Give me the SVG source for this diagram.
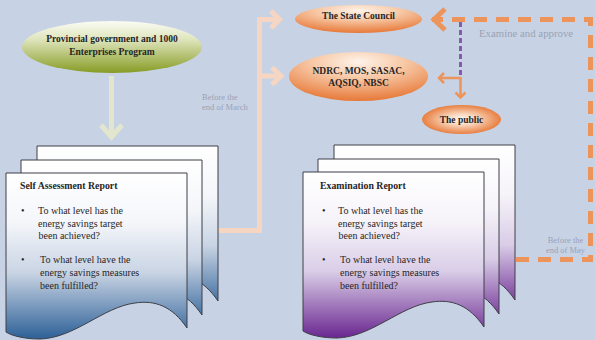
<svg xmlns="http://www.w3.org/2000/svg" width="595" height="340" viewBox="0 0 595 340">
<defs>
<linearGradient id="gGreen" x1="0" y1="0" x2="0" y2="1">
<stop offset="0" stop-color="#fbfcf4"/><stop offset="0.35" stop-color="#dfe5bd"/><stop offset="1" stop-color="#879c25"/>
</linearGradient>
<radialGradient id="gOrange" cx="0.5" cy="0.2" r="0.85">
<stop offset="0" stop-color="#fef3ea"/><stop offset="0.4" stop-color="#f7c7a4"/><stop offset="1" stop-color="#e5702c"/>
</radialGradient>
<radialGradient id="gPublic" cx="0.5" cy="0.5" r="0.55">
<stop offset="0" stop-color="#fffaf6"/><stop offset="0.35" stop-color="#f9d6bd"/><stop offset="1" stop-color="#e5702c"/>
</radialGradient>
<linearGradient id="gBlue" x1="0" y1="0" x2="0" y2="1">
<stop offset="0" stop-color="#ffffff"/><stop offset="0.3" stop-color="#f4f6fa"/><stop offset="0.6" stop-color="#c9d4e4"/><stop offset="1" stop-color="#2d6097"/>
</linearGradient>
<linearGradient id="gPurple" x1="0" y1="0" x2="0" y2="1">
<stop offset="0" stop-color="#ffffff"/><stop offset="0.3" stop-color="#f6f3f9"/><stop offset="0.6" stop-color="#d9cde7"/><stop offset="1" stop-color="#6a2690"/>
</linearGradient>
<path id="doc" d="M6,173 H187 V328 C172,306 155,300 135,303 C103,307 75,338 40,339 C25,339 12,336 6,332 Z"/>
<style>
.t{font-family:"Liberation Serif","Times New Roman",serif;fill:#262626;}
.en{font-size:9.5px;font-weight:bold;text-anchor:middle;}
.title{font-size:9.8px;font-weight:bold;}
.body{font-size:10px;}
.note{font-family:"Liberation Serif","Times New Roman",serif;fill:#9aa2b4;font-size:8.5px;}
.docB{fill:url(#gBlue);stroke:#3f3f46;stroke-width:1;}
.docP{fill:url(#gPurple);stroke:#3f3f46;stroke-width:1;}
.peach{fill:none;stroke:#f6d6c3;stroke-width:5;}
.og{fill:none;stroke:#ec945a;}
</style>
</defs>
<rect width="595" height="340" fill="#c7d3e5"/>

<g id="connectors">
<path d="M111.5,76 V136" fill="none" stroke="#e1e6cd" stroke-width="5"/>
<polyline points="101,125 111.5,137 122,125" fill="none" stroke="#e1e6cd" stroke-width="5"/>
<path class="peach" d="M217,230.5 H259.5 V17"/>
<path class="peach" d="M259.5,19.5 H278 M259.5,76 H280"/>
<polyline class="peach" points="271,11 279.5,19.5 271,28"/>
<polyline class="peach" points="272,67.5 281,76 272,84.5"/>
<path class="og" stroke-width="5" stroke-dasharray="13 9" d="M516,259.5 H590.5 V19.5 H440"/>
<path class="og" stroke-width="5" d="M443,19.5 H432"/>
<polyline class="og" stroke-width="5" points="445,9 434,19.5 445,30"/>
<path d="M460.5,22 V77" fill="none" stroke="#8a58b0" stroke-width="3" stroke-dasharray="5 3"/>
<path class="og" stroke-width="2.5" d="M460.5,77 V97 M460.5,78 H440"/>
<polyline class="og" stroke-width="2.5" points="444,73 439,78 444,83"/>
<polyline class="og" stroke-width="2.5" points="455.5,92.5 460.5,97.5 465.5,92.5"/>
<text class="note" x="202" y="100">Before the</text>
<text class="note" x="202" y="110">end of March</text>
<text class="note" x="479" y="37" style="font-size:10.8px">Examine and approve</text>
<text class="note" x="565.5" y="243" text-anchor="middle">Before the</text>
<text class="note" x="565.5" y="253" text-anchor="middle">end of May</text>
</g>

<g id="node-provincial">
<ellipse cx="112" cy="47" rx="90" ry="26" fill="url(#gGreen)"/>
<text class="t en" x="112" y="41.5">Provincial government and 1000</text>
<text class="t en" x="112" y="54.5">Enterprises Program</text>
</g>

<g id="node-state-council">
<ellipse cx="358.5" cy="19" rx="63.5" ry="14" fill="url(#gOrange)"/>
<text class="t en" x="358.5" y="19">The State Council</text>
</g>

<g id="node-ndrc">
<ellipse cx="358.5" cy="76.5" rx="69.5" ry="24.5" fill="url(#gOrange)"/>
<text class="t en" x="358.5" y="74">NDRC, MOS, SASAC,</text>
<text class="t en" x="358.5" y="86">AQSIQ, NBSC</text>
</g>

<g id="node-public">
<ellipse cx="461.5" cy="119.5" rx="39.5" ry="14.5" fill="url(#gPublic)"/>
<text class="t en" x="461.5" y="122.5">The public</text>
</g>

<g id="node-self-assessment">
<use href="#doc" class="docB" transform="translate(31,-27)"/>
<use href="#doc" class="docB" transform="translate(15,-13)"/>
<use href="#doc" class="docB"/>
<text class="t title" x="20" y="189">Self Assessment Report</text>
<text class="t body" x="21" y="214">•</text>
<text class="t body" x="38" y="214">To what level has the</text>
<text class="t body" x="38" y="226.5">energy savings target</text>
<text class="t body" x="38.5" y="239">been achieved?</text>
<text class="t body" x="21" y="263">•</text>
<text class="t body" x="40" y="263">To what level have the</text>
<text class="t body" x="40" y="276">energy savings measures</text>
<text class="t body" x="40" y="288.5">been fulfilled?</text>
</g>

<g id="node-examination">
<use href="#doc" class="docP" transform="translate(328,-28)"/>
<use href="#doc" class="docP" transform="translate(312,-14)"/>
<use href="#doc" class="docP" transform="translate(297,-1)"/>
<text class="t title" x="320" y="189">Examination Report</text>
<text class="t body" x="322" y="214">•</text>
<text class="t body" x="338" y="214">To what level has the</text>
<text class="t body" x="338" y="226.5">energy savings target</text>
<text class="t body" x="338.5" y="239">been achieved?</text>
<text class="t body" x="322" y="263">•</text>
<text class="t body" x="340" y="263">To what level have the</text>
<text class="t body" x="340" y="276">energy savings measures</text>
<text class="t body" x="340" y="288.5">been fulfilled?</text>
</g>
</svg>
